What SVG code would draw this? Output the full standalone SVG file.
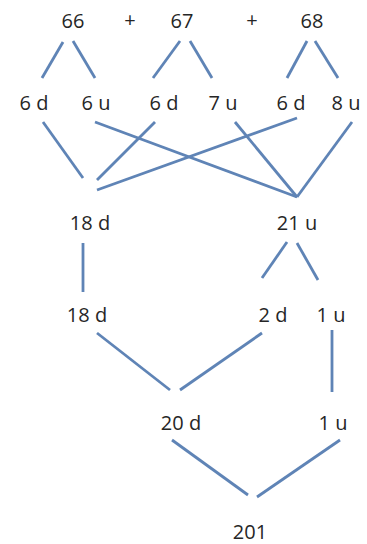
<svg xmlns="http://www.w3.org/2000/svg" width="367" height="544" viewBox="0 0 367 544">
<style>
text{font-family:"Open Sans","Noto Sans","Liberation Sans",sans-serif;font-size:20px;fill:#262626;text-anchor:middle}
.c line{stroke:#5f84b6;stroke-width:2.8;stroke-linecap:butt}
</style>
<rect width="367" height="544" fill="#fff"/>
<g class="c" id="connectors">
<line x1="63" y1="42" x2="42" y2="78"/>
<line x1="73" y1="41" x2="95" y2="78"/>
<line x1="180" y1="41" x2="153" y2="78"/>
<line x1="190" y1="41" x2="212" y2="78"/>
<line x1="307" y1="41" x2="287" y2="78"/>
<line x1="315" y1="41" x2="338" y2="78"/>
<line x1="43" y1="122" x2="83" y2="178"/>
<line x1="95" y1="122" x2="297" y2="197"/>
<line x1="155" y1="122" x2="97" y2="180"/>
<line x1="235" y1="122" x2="297" y2="197"/>
<line x1="297" y1="118" x2="97" y2="190"/>
<line x1="352" y1="122" x2="297" y2="197"/>
<line x1="83" y1="243" x2="83" y2="292"/>
<line x1="287" y1="242" x2="262" y2="278"/>
<line x1="297" y1="243" x2="318" y2="280"/>
<line x1="97" y1="333" x2="170" y2="390"/>
<line x1="262" y1="333" x2="180" y2="390"/>
<line x1="332" y1="330" x2="332" y2="392"/>
<line x1="172" y1="440" x2="248" y2="495"/>
<line x1="340" y1="440" x2="257" y2="497"/>
</g>
<g id="n66"><text x="73" y="28">66</text></g>
<g id="plus1"><text x="130" y="27">+</text></g>
<g id="n67"><text x="182" y="28">67</text></g>
<g id="plus2"><text x="252" y="27">+</text></g>
<g id="n68"><text x="312" y="28">68</text></g>
<g id="a6d"><text x="34" y="110">6 d</text></g>
<g id="a6u"><text x="96" y="110">6 u</text></g>
<g id="b6d"><text x="164" y="110">6 d</text></g>
<g id="b7u"><text x="223" y="110">7 u</text></g>
<g id="c6d"><text x="291" y="110">6 d</text></g>
<g id="c8u"><text x="346" y="110">8 u</text></g>
<g id="s18d"><text x="90" y="230">18 d</text></g>
<g id="s21u"><text x="297" y="230">21 u</text></g>
<g id="t18d"><text x="87" y="322">18 d</text></g>
<g id="t2d"><text x="273" y="322">2 d</text></g>
<g id="t1u"><text x="331" y="322">1 u</text></g>
<g id="u20d"><text x="181" y="430">20 d</text></g>
<g id="u1u"><text x="333" y="430">1 u</text></g>
<g id="r201"><text x="250" y="539">201</text></g>
</svg>
